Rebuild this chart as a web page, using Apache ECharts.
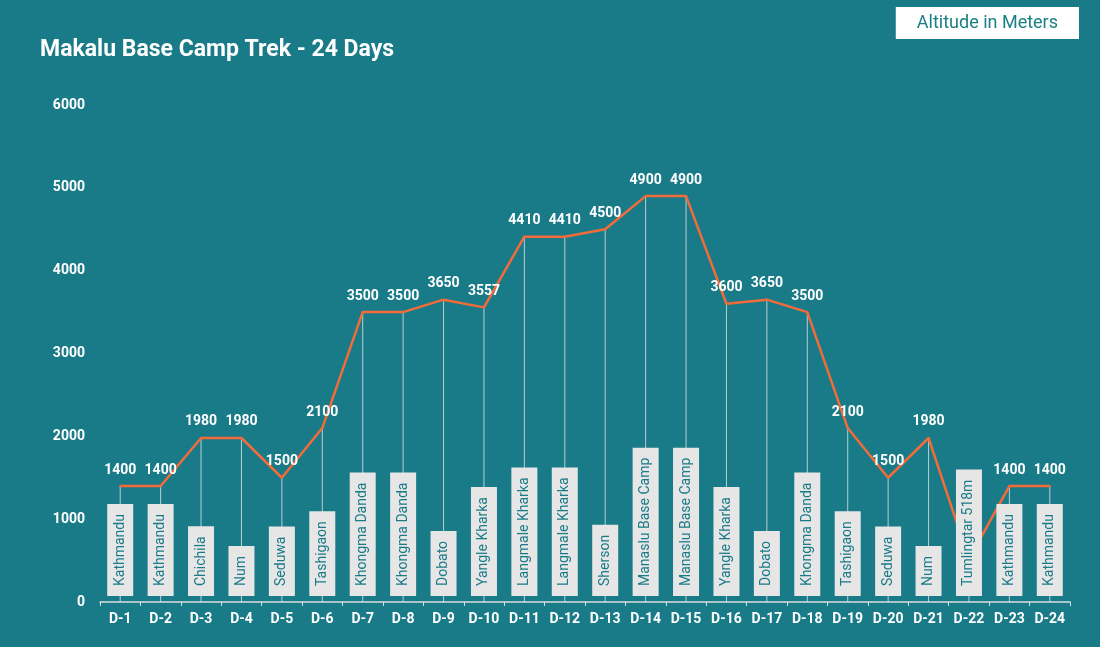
<!DOCTYPE html>
<html>
<head>
<meta charset="utf-8">
<script src="https://cdn.jsdelivr.net/npm/echarts@6/dist/echarts.min.js"></script>
<style>
html,body{margin:0;padding:0;background:#1a7b88;}
#chart{width:1100px;height:647px;}
</style>
</head>
<body>
<div id="chart"></div>
<script>
const days = ['D-1','D-2','D-3','D-4','D-5','D-6','D-7','D-8','D-9','D-10','D-11','D-12','D-13','D-14','D-15','D-16','D-17','D-18','D-19','D-20','D-21','D-22','D-23','D-24'];
const altitude = [1400,1400,1980,1980,1500,2100,3500,3500,3650,3557,4410,4410,4500,4900,4900,3600,3650,3500,2100,1500,1980,518,1400,1400];
const places = ['Kathmandu','Kathmandu','Chichila','Num','Seduwa','Tashigaon','Khongma Danda','Khongma Danda','Dobato','Yangle Kharka','Langmale Kharka','Langmale Kharka','Sherson','Manaslu Base Camp','Manaslu Base Camp','Yangle Kharka','Dobato','Khongma Danda','Tashigaon','Seduwa','Num','Tumlingtar 518m','Kathmandu','Kathmandu'];
const yTicks = {min:0, max:6000, interval:1000};

const teal = '#1a7b88';
const chart = echarts.init(document.getElementById('chart'));
chart.setOption({
  backgroundColor: teal,
  animation: false,
  textStyle: {fontFamily: 'Roboto'},
  title: {
    text: 'Makalu Base Camp Trek - 24 Days',
    left: 35, top: 34,
    textStyle: {color:'#ffffff', fontSize:23, fontWeight:'bold', fontFamily:'Roboto'}
  },
  legend: {
    data: ['Altitude in Meters'],
    right: 21, top: 7,
    icon: 'none',
    itemWidth: 0, itemHeight: 0,
    backgroundColor: '#ffffff',
    borderRadius: 0,
    padding: [7, 21, 7, 16],
    textStyle: {color: '#1a7f84', fontSize: 18, fontFamily:'Roboto'}
  },
  grid: {left: 100, right: 30, top: 105, bottom: 45},
  xAxis: {
    type: 'category',
    data: days,
    boundaryGap: true,
    axisLine: {lineStyle: {color: '#d8dfe0', width: 1.5}},
    axisTick: {show: true, length: 4, lineStyle: {color: '#d8dfe0'}},
    axisLabel: {color: '#ffffff', fontWeight: 'bold', fontSize: 14, margin: 10}
  },
  yAxis: {
    type: 'value',
    min: yTicks.min, max: yTicks.max, interval: yTicks.interval,
    splitLine: {show: false},
    axisLine: {show: false},
    axisTick: {show: false},
    axisLabel: {color: '#ffffff', fontWeight: 'bold', fontSize: 14, margin: 15,
      formatter: function(v){ return String(v); }}
  },
  series: [
    {
      name: 'drop',
      type: 'bar',
      data: altitude,
      barWidth: 1,
      itemStyle: {color: 'rgba(220,228,230,0.8)'},
      z: 1,
      silent: true
    },
    {
      name: 'Altitude in Meters',
      type: 'line',
      data: altitude,
      showSymbol: true,
      symbol: 'circle',
      symbolSize: 2,
      lineStyle: {color: '#f26b3a', width: 2.5},
      itemStyle: {color: '#f26b3a'},
      label: {
        show: true, position: 'top', distance: 8,
        color: '#ffffff', fontWeight: 'bold', fontSize: 14
      },
      labelLayout: {hideOverlap: false},
      z: 2
    },
    {
      name: 'places',
      type: 'scatter',
      data: places.map(function(p){ return 0; }),
      symbolSize: 0,
      itemStyle: {opacity: 1},
      z: 5,
      silent: true,
      label: {
        show: true,
        position: 'top',
        distance: 6,
        rotate: 90,
        align: 'left',
        verticalAlign: 'middle',
        formatter: function(p){ return places[p.dataIndex]; },
        color: teal,
        fontSize: 14,
        fontFamily: 'Roboto',
        backgroundColor: '#e6e6e6',
        padding: [6, 10, 6, 10]
      }
    }
  ]
});
</script>
</body>
</html>
